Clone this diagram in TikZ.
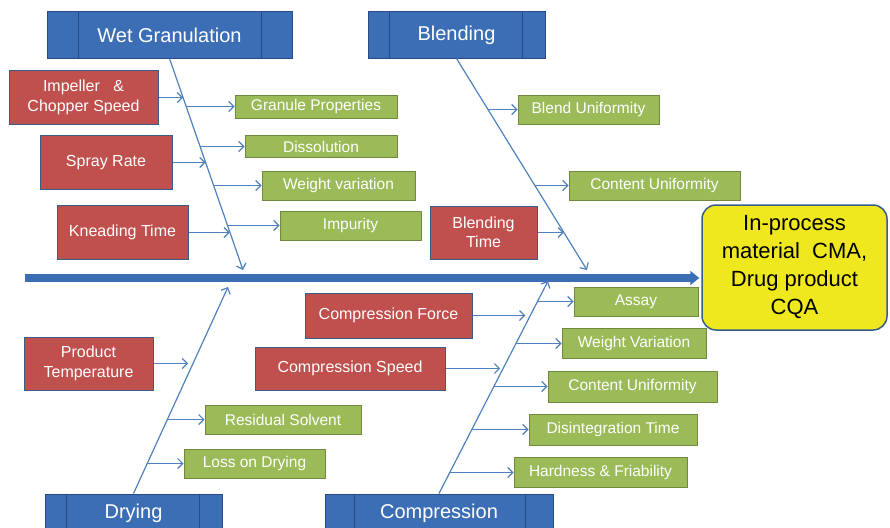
\documentclass[tikz,border=0pt]{standalone}
\usepackage{fontspec}
\setmainfont{Liberation Sans}
\usetikzlibrary{arrows.meta}
\definecolor{hdr}{RGB}{60,110,182}
\definecolor{hdrline}{RGB}{40,75,135}
\definecolor{redf}{RGB}{192,80,77}
\definecolor{redline}{RGB}{56,93,138}
\definecolor{grnf}{RGB}{155,187,89}
\definecolor{grnline}{RGB}{113,137,63}
\definecolor{arrc}{RGB}{79,129,189}
\definecolor{yel}{RGB}{240,232,30}
\begin{document}
\begin{tikzpicture}[x=1pt,y=-1pt,
  hdrbox/.style={draw=hdrline,line width=1pt,fill=hdr,text=white,font=\fontsize{20}{24}\selectfont,inner sep=0pt},
  cause/.style={draw=redline,line width=1pt,fill=redf,text=white,align=center,font=\fontsize{16}{19.5}\selectfont,inner sep=0pt},
  effect/.style={draw=grnline,line width=1pt,fill=grnf,text=white,font=\fontsize{15.5}{18}\selectfont,inner sep=0pt},
  bone/.style={draw=arrc,line width=1.2pt,-{Straight Barb[length=5pt,width=10pt]}},
  arrow/.style={draw=arrc,line width=1.2pt,-{Straight Barb[length=5pt,width=10pt]}},
  divider/.style={draw=hdrline,line width=1pt}]
\useasboundingbox (0,0) rectangle (890,527);
\clip (0,0) rectangle (890,527);

% header boxes
\node[hdrbox,minimum width=245pt,minimum height=46pt] (wg) at (169.5,35) {Wet Granulation};
\node[hdrbox,minimum width=177pt,minimum height=46pt] (bl) at (456.5,35) {Blending};
\node[hdrbox,minimum width=177pt,minimum height=38pt] (dr) at (133.5,513) {Drying};
\node[hdrbox,minimum width=228pt,minimum height=38pt] (cp) at (439,513) {Compression};
\draw[divider] ([xshift=32pt]wg.north west) -- ([xshift=32pt]wg.south west);
\draw[divider] ([xshift=-31pt]wg.north east) -- ([xshift=-31pt]wg.south east);
\draw[divider] ([xshift=22pt]bl.north west) -- ([xshift=22pt]bl.south west);
\draw[divider] ([xshift=-23pt]bl.north east) -- ([xshift=-23pt]bl.south east);
\draw[divider] ([xshift=22pt]dr.north west) -- ([xshift=22pt]dr.south west);
\draw[divider] ([xshift=-23pt]dr.north east) -- ([xshift=-23pt]dr.south east);
\draw[divider] ([xshift=30pt]cp.north west) -- ([xshift=30pt]cp.south west);
\draw[divider] ([xshift=-28pt]cp.north east) -- ([xshift=-28pt]cp.south east);

% effect box
\node[draw=redline,line width=1.5pt,fill=yel,rounded corners=14pt,minimum width=185pt,minimum height=125pt,align=center,inner sep=0pt,font=\fontsize{22}{28}\selectfont] (cqa) at (794.5,267.5) {In-process\\material\ \ CMA,\\Drug product\\CQA};

% spine
\coordinate (spS) at (25,278);
\draw[draw=hdr,line width=8pt,shorten >=2pt,-{Triangle[length=9pt,width=14pt]}] (spS) -- (spS -| cqa.west);

% bone ends
\coordinate (wgE) at (243,270);
\coordinate (blE) at (587,270);
\coordinate (drE) at (228,287);
\coordinate (cpE) at (548,281);
\draw[bone] (wg.south) -- (wgE);
\draw[bone] (bl.south) -- (blE);
\draw[bone] (dr.north) -- (drE);
\draw[bone] (cp.north) -- (cpE);

% points on bones
\path (wg.south) -- (wgE)
  coordinate[pos=0.184] (w1) coordinate[pos=0.229] (w2) coordinate[pos=0.415] (w3)
  coordinate[pos=0.491] (w4) coordinate[pos=0.601] (w5) coordinate[pos=0.790] (w6)
  coordinate[pos=0.821] (w7);
\path (bl.south) -- (blE)
  coordinate[pos=0.243] (b1) coordinate[pos=0.601] (b2) coordinate[pos=0.823] (b3);
\path (dr.north) -- (drE)
  coordinate[pos=0.630] (d1) coordinate[pos=0.360] (d2) coordinate[pos=0.147] (d3);
\path (cp.north) -- (cpE)
  coordinate[pos=0.904] (c1) coordinate[pos=0.838] (c2) coordinate[pos=0.709] (c3)
  coordinate[pos=0.589] (c4) coordinate[pos=0.505] (c5) coordinate[pos=0.303] (c6)
  coordinate[pos=0.103] (c7);

% causes (red)
\node[cause,minimum width=149pt,minimum height=54pt] (imp) at (83.5,97.5) {Impeller\ \ \ \&\\Chopper Speed};
\node[cause,minimum width=132pt,minimum height=54pt] (spr) at (106,162.5) {Spray Rate};
\node[cause,minimum width=131pt,minimum height=54pt] (kn) at (122.5,232.5) {Kneading Time};
\node[cause,minimum width=107pt,minimum height=53pt] (bt) at (483.5,232.5) {Blending\\Time};
\node[cause,minimum width=129pt,minimum height=53pt] (pt) at (88.5,363.5) {Product\\Temperature};
\node[cause,minimum width=167pt,minimum height=45pt] (cf) at (388.5,315.5) {Compression Force};
\node[cause,minimum width=190pt,minimum height=43pt] (cs) at (350,368.5) {Compression Speed};

% effects (green)
\node[effect,minimum width=162pt,minimum height=23pt] (gp) at (316,106.5) {Granule Properties};
\node[effect,minimum width=152pt,minimum height=22pt] (dis) at (321,146.5) {Dissolution};
\node[effect,minimum width=153pt,minimum height=29pt] (wv) at (338.5,185.5) {Weight variation};
\node[effect,minimum width=141pt,minimum height=29pt] (imq) at (350.5,225.5) {Impurity};
\node[effect,minimum width=141pt,minimum height=29pt] (bu) at (588.5,109.5) {Blend\ Uniformity};
\node[effect,minimum width=171pt,minimum height=29pt] (cu1) at (654.5,185.5) {Content Uniformity};
\node[effect,minimum width=156pt,minimum height=29pt] (rs) at (283,419.5) {Residual Solvent};
\node[effect,minimum width=141pt,minimum height=29pt] (lod) at (254.5,463.5) {Loss on Drying};
\node[effect,minimum width=124pt,minimum height=29pt] (as) at (636,301.5) {Assay};
\node[effect,minimum width=144pt,minimum height=30pt] (wv2) at (634,343.5) {Weight Variation};
\node[effect,minimum width=169pt,minimum height=31pt] (cu2) at (632.5,386.5) {Content Uniformity};
\node[effect,minimum width=168pt,minimum height=31pt] (dt) at (613,429.5) {Disintegration Time};
\node[effect,minimum width=173pt,minimum height=30pt] (hf) at (600.5,472.5) {Hardness \& Friability};

% cause arrows
\draw[arrow] (imp.east) -- (imp.east -| w1);
\draw[arrow] (spr.east) -- (spr.east -| w4);
\draw[arrow] (kn.east) -- (kn.east -| w7);
\draw[arrow] (bt.east) -- (bt.east -| b3);
\draw[arrow,shorten >=5pt] (pt.east) -- (pt.east -| d1);
\draw[arrow,shorten >=5pt] (cf.east) -- (cf.east -| c2);
\draw[arrow,shorten >=3pt] (cs.east) -- (cs.east -| c4);

% effect arrows
\draw[arrow] (gp.west -| w2) -- (gp.west);
\draw[arrow] (dis.west -| w3) -- (dis.west);
\draw[arrow] (wv.west -| w5) -- (wv.west);
\draw[arrow] (imq.west -| w6) -- (imq.west);
\draw[arrow] (bu.west -| b1) -- (bu.west);
\draw[arrow] (cu1.west -| b2) -- (cu1.west);
\draw[arrow] (rs.west -| d2) -- (rs.west);
\draw[arrow] (lod.west -| d3) -- (lod.west);
\draw[arrow] (as.west -| c1) -- (as.west);
\draw[arrow] (wv2.west -| c3) -- (wv2.west);
\draw[arrow] (cu2.west -| c5) -- (cu2.west);
\draw[arrow] (dt.west -| c6) -- (dt.west);
\draw[arrow] (hf.west -| c7) -- (hf.west);
\end{tikzpicture}
\end{document}
